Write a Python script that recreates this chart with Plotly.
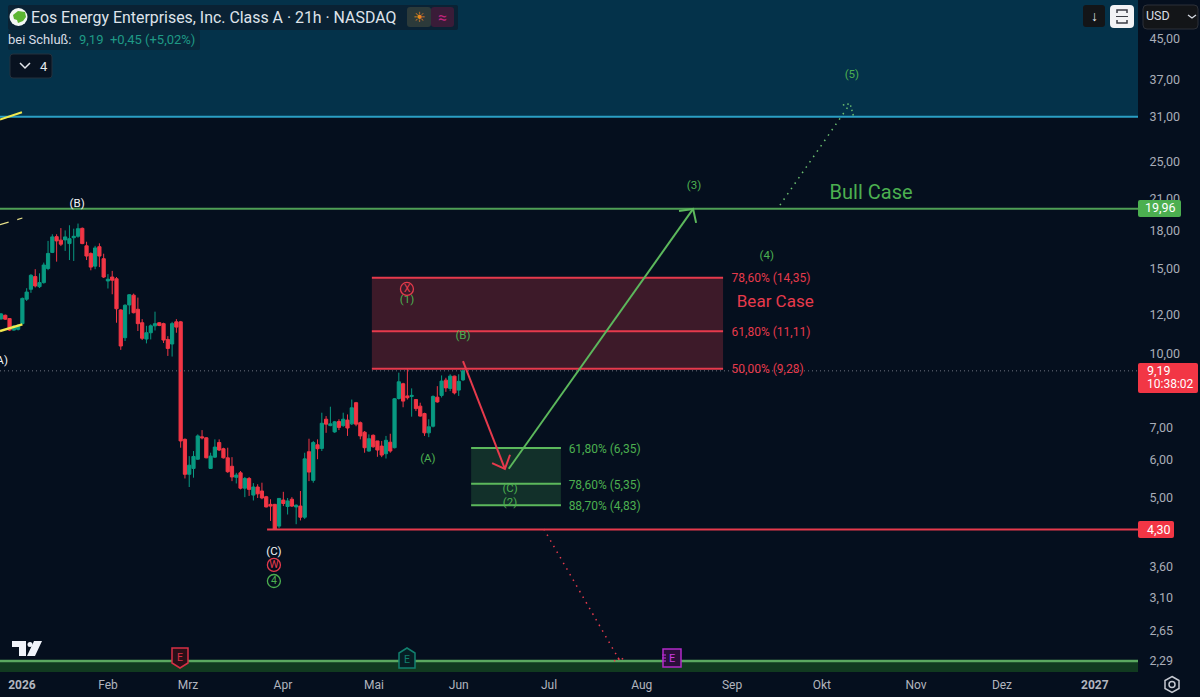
# -*- coding: UTF-8 -*-
import plotly.graph_objects as go

# candles (one entry per 21h bar)
opens = [11.78, 11.99, 11.80, 11.17, 11.21, 11.52, 12.95, 13.58, 14.43, 13.75, 14.02, 15.00, 16.20, 17.47, 17.18, 17.20,
         16.90, 17.38, 17.50, 18.18, 16.72, 16.12, 15.17, 16.65, 15.72, 14.13, 14.40, 14.28, 12.30, 10.77, 12.60, 13.20,
         12.34, 11.57, 10.70, 11.03, 11.40, 11.57, 11.52, 10.68, 10.45, 11.62, 11.62, 6.62, 5.60, 5.76, 6.02, 6.70,
         6.67, 5.76, 6.08, 6.52, 6.33, 6.06, 5.82, 5.52, 5.64, 5.24, 5.49, 5.07, 5.27, 5.17, 5.03, 4.85, 4.85, 4.37,
         4.95, 4.80, 4.97, 4.79, 4.81, 4.56, 6.24, 5.44, 6.45, 6.34, 7.29, 7.07, 6.86, 7.21, 7.07, 7.26, 7.13, 7.89,
         7.17, 6.85, 6.26, 6.75, 6.57, 6.41, 6.18, 6.53, 6.36, 8.05, 8.64, 8.15, 8.13, 8.01, 7.76, 7.49, 6.83, 7.05,
         8.10, 8.17, 8.79, 8.45, 8.96, 8.38, 8.80]
highs = [12.12, 12.03, 11.82, 11.42, 11.50, 13.05, 13.65, 14.60, 14.95, 14.66, 15.43, 17.12, 17.67, 17.67, 18.20, 18.00,
         18.45, 18.15, 18.60, 18.25, 17.05, 16.20, 16.72, 16.92, 16.10, 14.60, 14.83, 14.40, 12.34, 12.64, 13.26, 13.30,
         13.05, 11.77, 11.40, 11.48, 12.20, 11.60, 11.57, 10.85, 11.62, 11.77, 11.67, 6.65, 6.11, 6.26, 6.78, 6.92,
         6.69, 6.21, 6.62, 6.62, 6.36, 6.36, 6.08, 5.64, 5.69, 5.53, 5.53, 5.37, 5.34, 5.38, 5.05, 4.97, 4.86, 5.00,
         5.15, 5.00, 5.02, 4.85, 5.17, 6.21, 6.64, 6.57, 6.62, 7.52, 7.40, 7.74, 7.23, 7.29, 7.52, 7.46, 8.01, 7.92,
         7.21, 6.89, 6.78, 6.78, 6.57, 6.57, 6.73, 6.80, 8.07, 9.11, 8.68, 11.87, 8.45, 8.02, 7.89, 7.52, 7.29, 8.17,
         8.54, 8.99, 8.89, 9.04, 8.98, 9.04, 9.63]
lows = [11.75, 11.74, 11.12, 11.14, 11.15, 11.48, 12.84, 13.35, 13.70, 13.66, 13.95, 14.88, 16.15, 15.50, 16.70, 16.32,
        15.62, 15.55, 17.38, 16.85, 15.62, 14.87, 14.95, 15.10, 14.33, 13.63, 13.26, 11.57, 10.16, 10.60, 12.05, 12.10,
        11.12, 10.65, 10.48, 10.68, 11.15, 11.38, 10.50, 9.87, 9.84, 11.03, 6.36, 5.49, 5.27, 5.51, 6.00, 6.62,
        6.05, 5.75, 6.06, 6.26, 6.04, 5.64, 5.42, 5.36, 5.21, 5.02, 5.05, 4.94, 5.00, 4.97, 4.78, 4.48, 4.29, 4.33,
        4.81, 4.62, 4.79, 4.41, 4.49, 4.52, 5.42, 5.38, 6.02, 6.26, 6.83, 7.05, 6.83, 6.92, 7.03, 6.73, 7.09, 7.05,
        6.62, 6.21, 6.24, 6.36, 6.09, 6.08, 6.04, 6.21, 6.34, 8.01, 7.72, 8.01, 7.38, 7.58, 7.38, 6.73, 6.69, 7.01,
        7.89, 8.09, 8.31, 8.34, 8.21, 8.15, 8.75]
closes = [12.07, 11.77, 11.17, 11.39, 11.43, 13.00, 13.40, 14.52, 13.80, 14.02, 15.25, 16.12, 17.45, 17.12, 16.85, 17.45,
          17.30, 17.50, 18.15, 16.90, 15.92, 15.10, 16.55, 15.92, 14.40, 14.25, 14.18, 12.37, 10.35, 12.58, 13.23, 12.14,
          11.52, 10.74, 11.03, 11.40, 11.52, 11.42, 10.65, 10.23, 11.52, 11.33, 6.57, 5.60, 5.85, 6.10, 6.73, 6.67,
          6.06, 6.11, 6.38, 6.29, 6.06, 5.67, 5.53, 5.58, 5.24, 5.49, 5.21, 5.27, 5.10, 5.00, 4.79, 4.81, 4.31, 4.99,
          4.87, 4.93, 4.81, 4.83, 4.56, 6.03, 5.66, 6.52, 6.33, 7.15, 7.12, 7.13, 7.20, 7.01, 7.29, 6.99, 7.70, 7.12,
          6.73, 6.36, 6.64, 6.39, 6.29, 6.14, 6.59, 6.26, 8.04, 8.72, 7.95, 8.08, 8.17, 7.67, 7.40, 6.83, 7.03, 8.13,
          7.92, 8.75, 8.47, 8.96, 8.27, 8.74, 9.19]
bars = list(range(len(closes)))

# axes
price_ticks = [45, 37, 31, 25, 21, 18, 15, 12, 10, 7, 6, 5, 3.6, 3.1, 2.65, 2.29]
price_labels = ["45,00", "37,00", "31,00", "25,00", "21,00", "18,00", "15,00", "12,00", "10,00", "7,00", "6,00",
                "5,00", "3,60", "3,10", "2,65", "2,29"]
month_ticks = [4.9, 25, 43.7, 65.9, 87.2, 107, 128.1, 149.8, 170.9, 191.9, 213.9, 234, 255.7]
month_labels = ["<b>2026</b>", "Feb", "Mrz", "Apr", "Mai", "Jun", "Jul", "Aug", "Sep", "Okt", "Nov", "Dez", "<b>2027</b>"]
x_start, x_end = -0.234, 265.8

# levels
top_zone = 31
bottom_zone = 2.29
bull_level = 19.96
last_price = 9.19
support = 4.30
bear_levels = [14.35, 11.11, 9.28]
bear_labels = ["78,60% (14,35)", "61,80% (11,11)", "50,00% (9,28)"]
bear_label_y = [14.25, 11.04, 9.22]
bear_x = [86.7, 168.8]
buy_levels = [6.35, 5.35, 4.83]
buy_labels = ["61,80% (6,35)", "78,60% (5,35)", "88,70% (4,83)"]
buy_label_y = [6.29, 5.30, 4.78]
buy_x = [109.9, 130.9]

# drawn paths
red_arrow_x = [108, 117.8]
red_arrow_y = [9.63, 5.75]
red_head_x = [114.8, 117.8, 119]
red_head_y = [5.91, 5.75, 6.15]
green_arrow_x = [118.7, 161.8]
green_arrow_y = [5.75, 19.95]
green_head_x = [158.5, 161.8, 162.5]
green_head_y = [19.76, 19.95, 18.66]
red_dots_x = [126.9, 144.7]
red_dots_y = [4.31, 2.29]
red_dots_head_x = [143.3, 144.7, 145.9]
red_dots_head_y = [2.29, 2.33, 2.30]
green_dots_x = [182.1, 198.5]
green_dots_y = [20.32, 33.0]
green_dots_head_x = [196.8, 198.5, 199.4]
green_dots_head_y = [32.8, 33.0, 30.85]

# wave labels
white_x = [17.8, -0.2, 63.8]
white_y = [20.43, 9.63, 3.85]
white_text = ["(B)", "(A)", "(C)"]
green_x = [94.9, 108, 99.8, 119, 119, 162, 179, 198.9]
green_y = [12.9, 10.85, 6.03, 5.22, 4.88, 22.2, 15.9, 37.9]
green_text = ["(1)", "(B)", "(A)", "(C)", "(2)", "(3)", "(4)", "(5)"]
circle_red_x = [63.8, 94.9]
circle_red_y = [3.63, 13.6]
circle_red_text = ["W", "X"]
circle_green_x = [63.8]
circle_green_y = [3.36]
circle_green_text = ["4"]

UP = "#089981"
DOWN = "#f23645"
BG = "#050f1e"
GREEN = "#4f9f55"
RED = "#e63a4c"
LABEL_GREEN = "#4caf50"
FONT = "Roboto"


def px(x):
    return x / 1200


def py(y):
    return 1 - y / 697


def line(fig, x, y, color, width=2, dash="solid"):
    fig.add_trace(go.Scatter(x=x, y=y, mode="lines", line=dict(color=color, width=width, dash=dash),
                             hoverinfo="skip", showlegend=False))


def band(fig, x0, x1, y0, y1, color):
    fig.add_trace(go.Scatter(x=[x0, x1, x1, x0, x0], y=[y0, y0, y1, y1, y0], mode="lines", fill="toself",
                             fillcolor=color, line=dict(width=0), hoverinfo="skip", showlegend=False))


def words(fig, x, y, text, color, size=11.5, pos="middle center"):
    fig.add_trace(go.Scatter(x=x, y=y, mode="text", text=text, textposition=pos,
                             textfont=dict(color=color, size=size, family=FONT),
                             hoverinfo="skip", showlegend=False))


def circled(fig, x, y, text, color):
    fig.add_trace(go.Scatter(x=x, y=y, mode="markers+text", text=text, textposition="middle center",
                             marker=dict(size=13, color="rgba(0,0,0,0)", line=dict(color=color, width=1.3)),
                             textfont=dict(color=color, size=10.5, family=FONT),
                             hoverinfo="skip", showlegend=False))


def box(x0, y0, x1, y1, fill, r=3, border=None):
    # rounded box in page pixels
    path = (f"M {px(x0 + r)} {py(y0)} L {px(x1 - r)} {py(y0)} Q {px(x1)} {py(y0)} {px(x1)} {py(y0 + r)} "
            f"L {px(x1)} {py(y1 - r)} Q {px(x1)} {py(y1)} {px(x1 - r)} {py(y1)} "
            f"L {px(x0 + r)} {py(y1)} Q {px(x0)} {py(y1)} {px(x0)} {py(y1 - r)} "
            f"L {px(x0)} {py(y0 + r)} Q {px(x0)} {py(y0)} {px(x0 + r)} {py(y0)} Z")
    return dict(type="path", path=path, xref="paper", yref="paper", fillcolor=fill,
                line=dict(color=border if border else fill, width=1 if border else 0))


def poly(points, fill=None, stroke=None, width=1.5, close=True):
    path = "M " + " L ".join(f"{px(x)} {py(y)}" for x, y in points) + (" Z" if close else "")
    return dict(type="path", path=path, xref="paper", yref="paper", fillcolor=fill if fill else "rgba(0,0,0,0)",
                line=dict(color=stroke if stroke else "rgba(0,0,0,0)", width=width if stroke else 0))


def note(text, x, y, color="#d8dde5", size=13, anchor="left"):
    # annotations carry about 2px of padding on the left
    x = x - 2 if anchor == "left" else x
    return dict(text=text, x=px(x), y=py(y), xref="paper", yref="paper", xanchor=anchor, yanchor="middle",
                showarrow=False, align="left", font=dict(color=color, size=size, family=FONT))


fig = go.Figure()

# zones behind the candles
band(fig, x_start, x_end, top_zone, 60, "#04324a")
band(fig, x_start, x_end, 2.0, bottom_zone, "#113a20")
band(fig, bear_x[0], bear_x[1], bear_levels[0], bear_levels[2], "#3d1a29")
band(fig, buy_x[0], buy_x[1], buy_levels[0], buy_levels[2], "#12302a")

line(fig, [x_start, x_end], [top_zone, top_zone], "#2a9fc4", 2)
line(fig, [x_start, x_end], [bottom_zone, bottom_zone], "#5aa860", 2.5)
line(fig, [x_start, x_end], [bull_level, bull_level], GREEN, 2)
line(fig, [x_start, x_end], [last_price, last_price], "#6f7480", 1, "1px,3px")
line(fig, [62.2, x_end], [support, support], RED, 2)

for lvl in bear_levels:
    line(fig, bear_x, [lvl, lvl], RED, 2)
for lvl in buy_levels:
    line(fig, buy_x, [lvl, lvl], "#5cb85c", 2)

fig.add_trace(go.Candlestick(
    x=bars, open=opens, high=highs, low=lows, close=closes,
    increasing=dict(line=dict(color=UP, width=1), fillcolor=UP),
    decreasing=dict(line=dict(color=DOWN, width=1), fillcolor=DOWN),
    whiskerwidth=0, hoverinfo="skip", showlegend=False,
))

# yellow trend lines on the left edge
line(fig, [x_start, 4.9], [30.6, 31.7], "#f2e94e", 2)
line(fig, [x_start, 5], [11.12, 11.48], "#f2e94e", 2.5)
line(fig, [x_start, 5], [18.5, 19.1], "#e8e08a", 1.2, "dash")

# wave paths
line(fig, red_arrow_x, red_arrow_y, RED, 2)
line(fig, red_head_x, red_head_y, RED, 2)
line(fig, green_arrow_x, green_arrow_y, "#5cb85c", 2)
line(fig, green_head_x, green_head_y, "#5cb85c", 2)
line(fig, red_dots_x, red_dots_y, RED, 1.5, "1.5px,5px")
line(fig, red_dots_head_x, red_dots_head_y, RED, 1.5, "1.5px,3px")
line(fig, green_dots_x, green_dots_y, "#6cbf70", 1.5, "1.5px,5px")
line(fig, green_dots_head_x, green_dots_head_y, "#6cbf70", 1.5, "1.5px,3px")

# labels on the chart
words(fig, white_x, white_y, white_text, "#f2f4f7")
words(fig, green_x, green_y, green_text, LABEL_GREEN)
circled(fig, circle_red_x, circle_red_y, circle_red_text, RED)
circled(fig, circle_green_x, circle_green_y, circle_green_text, LABEL_GREEN)
words(fig, [bear_x[1] + 2]*3, bear_label_y, bear_labels, RED, 12, "middle right")
words(fig, [buy_x[1] + 1.8]*3, buy_label_y, buy_labels, LABEL_GREEN, 12, "middle right")
words(fig, [203.4], [21.4], ["Bull Case"], LABEL_GREEN, 20)
words(fig, [181], [12.75], ["Bear Case"], RED, 17)

shapes = [
    # legend strip
    box(8, 5, 458, 30, "#0a2234", 2),
    box(8, 30, 200, 50, "#08283b", 2),
    box(407, 7, 431, 27, "#2c3a3a", 3),
    box(431, 7, 454, 27, "#3a1c38", 3),
    dict(type="circle", xref="paper", yref="paper", x0=px(9.5), x1=px(27.5), y0=py(8), y1=py(26),
         fillcolor="#f4f6f4", line=dict(width=0)),
    poly([(13, 15), (18, 11), (25, 12), (26, 17), (23, 21), (18, 23), (17, 20), (14, 19)], "#5cb531"),
    box(10, 54, 52, 78, "#081220", 3, "#24303c"),
    poly([(20, 63), (25, 68), (30, 63)], stroke="#e4e7ec", width=1.5, close=False),
    # toolbar top right
    box(1083, 5, 1105, 27, "#131518", 3),
    box(1110, 5, 1134, 28, "#f2f3f5", 4),
    poly([(1117, 13), (1117, 10), (1127, 10), (1127, 13)], stroke="#3a3d44", width=1.5, close=False),
    poly([(1117, 20), (1117, 23), (1127, 23), (1127, 20)], stroke="#3a3d44", width=1.5, close=False),
    poly([(1116, 16.5), (1128, 16.5)], stroke="#3a3d44", width=1, close=False),
    box(1143, 5, 1198, 29, "#131518", 4, "#2c3038"),
    poly([(1188, 15), (1192, 18), (1196, 15)], stroke="#d8dde5", width=1.3, close=False),
    # price labels
    box(1138, 200, 1181, 217, "#4caf50", 2),
    box(1138, 363, 1198, 393, "#f23645", 2),
    box(1138, 521, 1174, 538, "#f23645", 2),
    # earnings flags on the bottom line
    poly([(172, 648), (188, 648), (188, 663), (180, 668), (172, 663)], "#2a0f18", "#d63045"),
    poly([(407, 648), (415, 653), (415, 668), (399, 668), (399, 653)], "#061e24", "#12806f"),
    poly([(663, 649), (681, 649), (681, 667), (663, 667)], "#2a0f3a", "#b32bc9"),
    poly([(662, 655), (666, 655)], stroke="#b32bc9", width=1.2, close=False),
    poly([(662, 658), (666, 658)], stroke="#b32bc9", width=1.2, close=False),
    poly([(662, 661), (666, 661)], stroke="#b32bc9", width=1.2, close=False),
    # TradingView mark
    poly([(12, 641), (26, 641), (26, 656), (19, 656), (19, 647), (12, 647)], "#f0f3fa"),
    dict(type="circle", xref="paper", yref="paper", x0=px(27.5), x1=px(32.5), y0=py(642), y1=py(647),
         fillcolor="#f0f3fa", line=dict(width=0)),
    poly([(34, 641), (42, 641), (35, 656), (27, 656)], "#f0f3fa"),
    # settings icon
    poly([(1172, 676.5), (1179, 680.5), (1179, 688.5), (1172, 692.5), (1165, 688.5), (1165, 680.5)],
         stroke="#c5c8d0", width=1.5),
    dict(type="circle", xref="paper", yref="paper", x0=px(1169), x1=px(1175), y0=py(681.5), y1=py(687.5),
         line=dict(color="#c5c8d0", width=1.5)),
]

annotations = [
    note("Eos Energy Enterprises, Inc. Class A · 21h · NASDAQ", 31, 17, "#dfe3ea", 15.9),
    note("☀", 419, 17, "#e8871e", 14, "center"),
    note("≈", 442, 17, "#c2257e", 16, "center"),
    note("bei Schluß:", 8, 40, "#d8dde5", 13),
    note("9,19  +0,45 (+5,02%)", 79, 40, "#1f9a86", 13),
    note("4", 44, 66, "#e4e7ec", 13, "center"),
    note("↓", 1094, 16, "#e8eaee", 14, "center"),
    note("USD", 1146, 16, "#d8dde5", 12.5),
    note("19,96", 1160, 208, "#ffffff", 12.5, "center"),
    note("9,19", 1147, 371, "#ffffff", 12.5),
    note("10:38:02", 1147, 384, "#ffffff", 12),
    note("4,30", 1147, 529, "#ffffff", 12.5),
    note("E", 180, 657, "#d63045", 10.5, "center"),
    note("E", 407, 659, "#12806f", 10.5, "center"),
    note("E", 672, 658, "#c93be0", 11, "center"),
]

fig.update_layout(
    width=1200,
    height=697,
    margin=dict(l=0, r=0, t=0, b=0),
    paper_bgcolor=BG,
    plot_bgcolor=BG,
    showlegend=False,
    hovermode=False,
    boxgap=0.25,
    boxgroupgap=0,
    shapes=shapes,
    annotations=annotations,
    xaxis=dict(
        domain=[0, 1138 / 1200], range=[x_start, x_end], tickvals=month_ticks, ticktext=month_labels,
        showgrid=False, zeroline=False, showline=False, ticks="outside", ticklen=2, tickcolor="rgba(0,0,0,0)",
        tickfont=dict(color="#b2b5be", size=12, family=FONT), rangeslider=dict(visible=False),
    ),
    yaxis=dict(
        domain=[25 / 697, 1], type="log", range=[0.3372, 1.7343], side="right", tickvals=price_ticks,
        ticktext=price_labels, showgrid=False, zeroline=False, showline=False, ticks="outside", ticklen=8,
        tickcolor="rgba(0,0,0,0)", tickfont=dict(color="#a9adb8", size=12.5, family=FONT),
    ),
)

fig.write_html("out.html", config=dict(displayModeBar=False),
               post_script="document.body.style.margin='0';")
